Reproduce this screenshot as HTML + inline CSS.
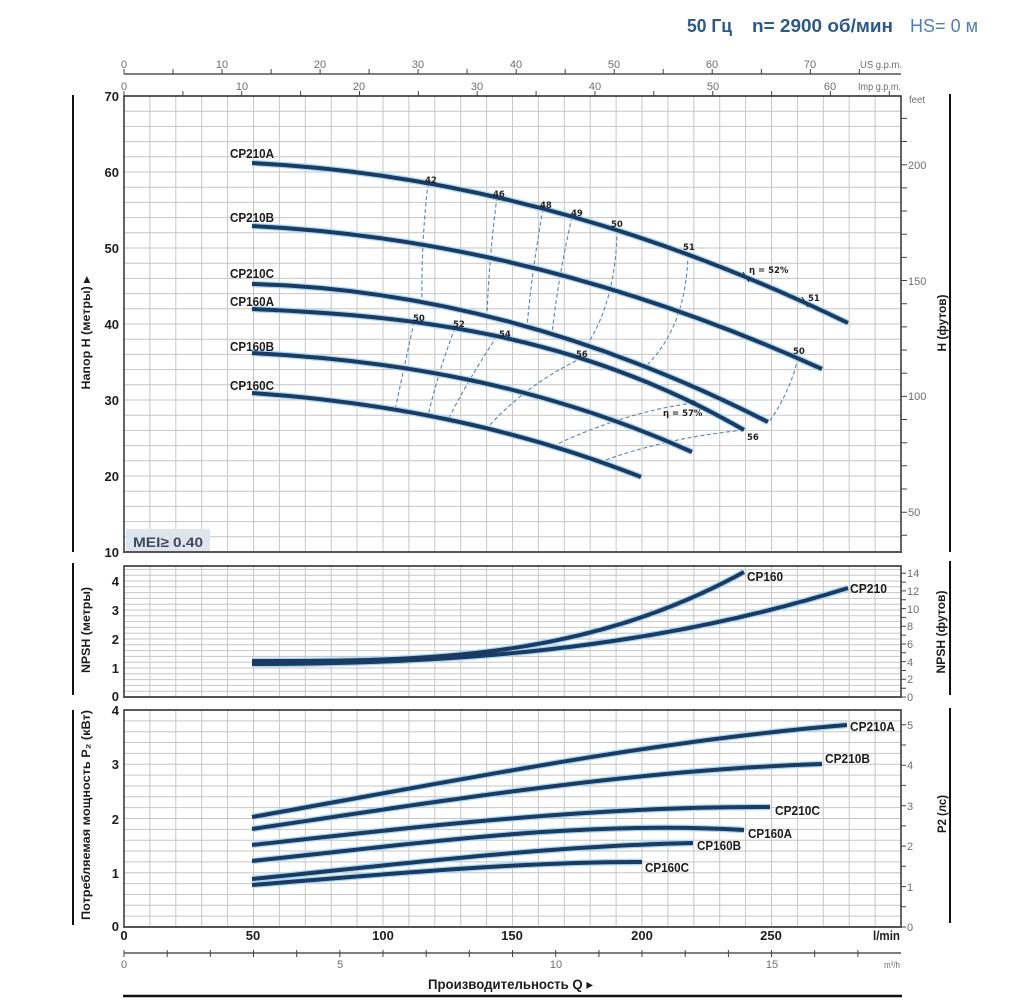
<!DOCTYPE html>
<html><head><meta charset="utf-8"><style>
html,body{margin:0;padding:0;background:#fff}
svg{display:block}
.tk{font:bold 13px "Liberation Sans",sans-serif;fill:#1e1e1e}
.sm{font:11px "Liberation Sans",sans-serif;fill:#6e6e6e}
.lb{font:bold 13px "Liberation Sans",sans-serif;fill:#1c1c1c}
.ef{font:bold 8.5px "DejaVu Sans","Liberation Sans",sans-serif;fill:#222}
.ax{font:bold 12px "Liberation Sans",sans-serif;fill:#1c1c1c}
.cv{fill:none;stroke:#1b3b62;stroke-width:4;stroke-linecap:butt}
.hl{fill:none;stroke:#a8d6f2;stroke-width:6.5;stroke-linecap:butt}
.ds{fill:none;stroke:#5b84b1;stroke-width:1.1;stroke-dasharray:4 2.5}
</style></head><body>
<svg width="1015" height="1000" viewBox="0 0 1015 1000" xmlns="http://www.w3.org/2000/svg">
<rect width="1015" height="1000" fill="#fff"/>

<!-- header -->
<text x="687" y="32" textLength="45" lengthAdjust="spacingAndGlyphs" style="font:bold 18px 'Liberation Sans',sans-serif;fill:#2c5a88">50 Гц</text>
<text x="752" y="32" textLength="141" lengthAdjust="spacingAndGlyphs" style="font:bold 18px 'Liberation Sans',sans-serif;fill:#2c5a88">n= 2900 об/мин</text>
<text x="910" y="32" textLength="68" lengthAdjust="spacingAndGlyphs" style="font:18px 'Liberation Sans',sans-serif;fill:#4f7fb0">HS= 0 м</text>

<!-- grid verticals -->
<path stroke="#c6c6c6" stroke-width="1" fill="none" d="M149.9 96V927M175.8 96V927M201.7 96V927M227.6 96V927M253.5 96V927M279.4 96V927M305.3 96V927M331.2 96V927M357.1 96V927M383 96V927M408.9 96V927M434.8 96V927M460.7 96V927M486.6 96V927M512.5 96V927M538.4 96V927M564.3 96V927M590.2 96V927M616.1 96V927M642 96V927M667.9 96V927M693.8 96V927M719.7 96V927M745.6 96V927M771.5 96V927M797.4 96V927M823.3 96V927M849.2 96V927M875.1 96V927"/>
<rect x="120" y="553" width="785" height="12.5" fill="#fff"/>
<rect x="120" y="698" width="785" height="11.5" fill="#fff"/>

<!-- grid horizontals -->
<path stroke="#c6c6c6" stroke-width="1" fill="none" d="M124 536.8H901M124 521.6H901M124 506.4H901M124 491.2H901M124 476H901M124 460.8H901M124 445.6H901M124 430.4H901M124 415.2H901M124 400H901M124 384.8H901M124 369.6H901M124 354.4H901M124 339.2H901M124 324H901M124 308.8H901M124 293.6H901M124 278.4H901M124 263.2H901M124 248H901M124 232.8H901M124 217.6H901M124 202.4H901M124 187.2H901M124 172H901M124 156.8H901M124 141.6H901M124 126.4H901M124 111.2H901
M124 691.2H901M124 685.4H901M124 679.6H901M124 673.8H901M124 668H901M124 662.2H901M124 656.4H901M124 650.6H901M124 644.8H901M124 639H901M124 633.2H901M124 627.4H901M124 621.6H901M124 615.8H901M124 610H901M124 604.2H901M124 598.4H901M124 592.6H901M124 586.8H901M124 581H901M124 575.2H901M124 569.4H901
M124 916.15H901M124 905.3H901M124 894.45H901M124 883.6H901M124 872.75H901M124 861.9H901M124 851.05H901M124 840.2H901M124 829.35H901M124 818.5H901M124 807.65H901M124 796.8H901M124 785.95H901M124 775.1H901M124 764.25H901M124 753.4H901M124 742.55H901M124 731.7H901M124 720.85H901"/>

<!-- panel borders -->
<path stroke="#222" stroke-width="1.4" fill="none" d="M124 552V96H901V552M124 697V566H901V697M124 927V710H901V927"/>
<path stroke="#555" stroke-width="2" fill="none" d="M123 552H902M123 697H902M123 927H902"/>

<!-- top axes -->
<path stroke="#333" stroke-width="1.2" fill="none" d="M124 74H901"/>
<path stroke="#444" stroke-width="1" fill="none" d="M124 74v-5M173 74v-5M222 74v-5M271.1 74v-5M320.1 74v-5M369.1 74v-5M418.1 74v-5M467.1 74v-5M516.2 74v-5M565.2 74v-5M614.2 74v-5M663.2 74v-5M712.2 74v-5M761.3 74v-5M810.3 74v-5M859.3 74v-5
M124 96v-5M182.9 96v-5M241.7 96v-5M300.6 96v-5M359.5 96v-5M418.4 96v-5M477.2 96v-5M536.1 96v-5M595 96v-5M653.8 96v-5M712.7 96v-5M771.6 96v-5M830.4 96v-5M889.3 96v-5"/>
<g class="sm" text-anchor="middle">
<text x="124" y="68">0</text><text x="222" y="68">10</text><text x="320" y="68">20</text><text x="418" y="68">30</text><text x="516" y="68">40</text><text x="614" y="68">50</text><text x="712" y="68">60</text><text x="810" y="68">70</text>
<text x="124" y="90">0</text><text x="242" y="90">10</text><text x="359" y="90">20</text><text x="477" y="90">30</text><text x="595" y="90">40</text><text x="713" y="90">50</text><text x="830" y="90">60</text>
</g>
<text class="sm" x="860" y="68" textLength="42" lengthAdjust="spacingAndGlyphs" style="font-size:10px">US g.p.m.</text>
<text class="sm" x="858" y="90" textLength="43" lengthAdjust="spacingAndGlyphs" style="font-size:10px">Imp g.p.m.</text>
<text class="sm" x="909" y="103" textLength="16" lengthAdjust="spacingAndGlyphs" style="font-size:10px">feet</text>

<!-- left tick labels -->
<g class="tk" text-anchor="end">
<text x="119" y="101">70</text><text x="119" y="177">60</text><text x="119" y="253">50</text><text x="119" y="329">40</text><text x="119" y="405">30</text><text x="119" y="481">20</text><text x="119" y="557">10</text>
<text x="119" y="586">4</text><text x="119" y="615">3</text><text x="119" y="644">2</text><text x="119" y="673">1</text><text x="119" y="701">0</text>
<text x="119" y="715">4</text><text x="119" y="769">3</text><text x="119" y="824">2</text><text x="119" y="878">1</text><text x="119" y="931">0</text>
</g>

<!-- right ticks -->
<path stroke="#444" stroke-width="1" fill="none" d="M901 535.3h6M901 512.2h6M901 489h6M901 465.8h6M901 442.7h6M901 419.5h6M901 396.4h6M901 373.2h6M901 350h6M901 326.9h6M901 303.7h6M901 280.5h6M901 257.4h6M901 234.2h6M901 211h6M901 187.9h6M901 164.7h6M901 141.5h6M901 118.4h6
M901 697h5M901 688.2h5M901 679.3h5M901 670.5h5M901 661.6h5M901 652.8h5M901 644h5M901 635.1h5M901 626.3h5M901 617.4h5M901 608.6h5M901 599.8h5M901 590.9h5M901 582.1h5M901 573.2h5
M901 927h5M901 906.8h5M901 886.6h5M901 866.3h5M901 846.1h5M901 825.9h5M901 805.7h5M901 785.4h5M901 765.2h5M901 745h5M901 724.8h5"/>
<g class="sm">
<text x="908" y="516">50</text><text x="908" y="400">100</text><text x="908" y="285">150</text><text x="908" y="169">200</text>
<text x="907" y="701">0</text><text x="907" y="683">2</text><text x="907" y="666">4</text><text x="907" y="648">6</text><text x="907" y="630">8</text><text x="907" y="613">10</text><text x="907" y="595">12</text><text x="907" y="577">14</text>
<text x="907" y="931">0</text><text x="907" y="891">1</text><text x="907" y="850">2</text><text x="907" y="810">3</text><text x="907" y="769">4</text><text x="907" y="729">5</text>
</g>

<!-- brackets -->
<path stroke="#111" stroke-width="2" fill="none" d="M73 95V552M73 563V695M73 710V925M950 94V552M950 561V695M950 708V923"/>

<!-- axis titles -->
<text class="ax" transform="translate(90,333) rotate(-90)" text-anchor="middle" textLength="113" lengthAdjust="spacingAndGlyphs">Напор H (метры) ▸</text>
<text class="ax" transform="translate(90,630) rotate(-90)" text-anchor="middle" textLength="86" lengthAdjust="spacingAndGlyphs">NPSH (метры)</text>
<text class="ax" transform="translate(90,815) rotate(-90)" text-anchor="middle" textLength="210" lengthAdjust="spacingAndGlyphs">Потребляемая мощность P₂ (кВт)</text>
<text class="ax" transform="translate(946,323) rotate(-90)" text-anchor="middle" textLength="57" lengthAdjust="spacingAndGlyphs">H (футов)</text>
<text class="ax" transform="translate(945,632) rotate(-90)" text-anchor="middle" textLength="83" lengthAdjust="spacingAndGlyphs">NPSH (футов)</text>
<text class="ax" transform="translate(946,814) rotate(-90)" text-anchor="middle" textLength="38" lengthAdjust="spacingAndGlyphs">P2 (лс)</text>

<!-- MEI box -->
<rect x="126" y="529" width="84" height="22" fill="#dfe5ec"/>
<text x="133" y="547" textLength="70" lengthAdjust="spacingAndGlyphs" style="font:bold 14px 'Liberation Sans','DejaVu Sans',sans-serif;fill:#3c4c5c">MEI≥ 0.40</text>

<!-- efficiency dashed lines -->
<g class="ds">
<path d="M428 183Q421 245 422 302"/>
<path d="M497 197Q489 258 487 316"/>
<path d="M543 209Q532 270 527 327"/>
<path d="M572 217Q558 278 552 334"/>
<path d="M617 230Q616 300 587 345"/>
<path d="M688 254Q686 328 645 367"/>
<path d="M798 358Q790 392 769 422"/>
<path d="M414 322Q404 368 395 410"/>
<path d="M455 328Q438 372 428 416"/>
<path d="M497 336Q465 385 448 420"/>
<path d="M582 358Q528 383 487 428"/>
<path d="M553 446Q625 412 693 403"/>
<path d="M600 462Q665 438 744 430"/>
</g>

<!-- head curves -->
<g>
<path class="hl" d="M252 163Q550 178 848 323"/>
<path class="hl" d="M252 226Q537 240 822 369"/>
<path class="hl" d="M252 284Q510 291 768 422"/>
<path class="hl" d="M252 309C416 315.6 580 335 744 430"/>
<path class="hl" d="M252 353C398.7 360.3 545.3 386 692 452"/>
<path class="hl" d="M252 393C381.7 402 511.3 426 641 477"/>
<path class="cv" d="M252 163Q550 178 848 323"/>
<path class="cv" d="M252 226Q537 240 822 369"/>
<path class="cv" d="M252 284Q510 291 768 422"/>
<path class="cv" d="M252 309C416 315.6 580 335 744 430"/>
<path class="cv" d="M252 353C398.7 360.3 545.3 386 692 452"/>
<path class="cv" d="M252 393C381.7 402 511.3 426 641 477"/>
</g>
<path stroke="#1b3b62" stroke-width="1.2" d="M743 272l6 10M802 297l6 10"/>
<circle cx="693" cy="402.7" r="2.5" fill="#1b3b62"/>

<!-- efficiency labels -->
<g class="ef">
<text x="425" y="183">42</text><text x="493" y="197">46</text><text x="540" y="208">48</text><text x="571" y="216">49</text><text x="611" y="227">50</text><text x="683" y="250">51</text><text x="808" y="301">51</text><text x="793" y="354">50</text><text x="747" y="440">56</text>
<text x="413" y="321">50</text><text x="453" y="327">52</text><text x="499" y="337">54</text><text x="576" y="357">56</text>
<text x="749" y="273">η = 52%</text><text x="663" y="416">η = 57%</text>
</g>

<!-- curve labels main -->
<g class="lb">
<text x="230" y="158" textLength="44" lengthAdjust="spacingAndGlyphs">CP210A</text>
<text x="230" y="222" textLength="44" lengthAdjust="spacingAndGlyphs">CP210B</text>
<text x="230" y="278" textLength="44" lengthAdjust="spacingAndGlyphs">CP210C</text>
<text x="230" y="306" textLength="44" lengthAdjust="spacingAndGlyphs">CP160A</text>
<text x="230" y="351" textLength="44" lengthAdjust="spacingAndGlyphs">CP160B</text>
<text x="230" y="390" textLength="44" lengthAdjust="spacingAndGlyphs">CP160C</text>
</g>

<!-- NPSH curves -->
<path class="hl" d="M252 664C450.7 664 649.3 650 848 588"/>
<path class="hl" d="M252 661C416 661 580 662 744 572"/>
<path class="cv" d="M252 664C450.7 664 649.3 650 848 588"/>
<path class="cv" d="M252 661C416 661 580 662 744 572"/>
<g class="lb">
<text x="747" y="581" textLength="36" lengthAdjust="spacingAndGlyphs">CP160</text>
<text x="850" y="593" textLength="37" lengthAdjust="spacingAndGlyphs">CP210</text>
</g>

<!-- power curves -->
<g>
<path class="hl" d="M252 817C450 782 649 741 847 725"/>
<path class="hl" d="M252 829C442 801 632 770 822 764"/>
<path class="hl" d="M252 845C424.7 826 597 806 770 807"/>
<path class="hl" d="M252 861C416 844 580 820 744 830"/>
<path class="hl" d="M252 879C399 864.3 546 846 693 843"/>
<path class="hl" d="M252 885C382 874.6 512 862 642 862"/>
<path class="cv" d="M252 817C450 782 649 741 847 725"/>
<path class="cv" d="M252 829C442 801 632 770 822 764"/>
<path class="cv" d="M252 845C424.7 826 597 806 770 807"/>
<path class="cv" d="M252 861C416 844 580 820 744 830"/>
<path class="cv" d="M252 879C399 864.3 546 846 693 843"/>
<path class="cv" d="M252 885C382 874.6 512 862 642 862"/>
</g>
<g class="lb">
<text x="850" y="731" textLength="45" lengthAdjust="spacingAndGlyphs">CP210A</text>
<text x="825" y="763" textLength="45" lengthAdjust="spacingAndGlyphs">CP210B</text>
<text x="775" y="815" textLength="45" lengthAdjust="spacingAndGlyphs">CP210C</text>
<text x="748" y="838" textLength="44" lengthAdjust="spacingAndGlyphs">CP160A</text>
<text x="697" y="850" textLength="44" lengthAdjust="spacingAndGlyphs">CP160B</text>
<text x="645" y="872" textLength="44" lengthAdjust="spacingAndGlyphs">CP160C</text>
</g>

<!-- bottom l/min labels -->
<g class="tk" text-anchor="middle">
<text x="124" y="940">0</text><text x="253" y="940">50</text><text x="383" y="940">100</text><text x="512" y="940">150</text><text x="642" y="940">200</text><text x="771" y="940">250</text>
</g>
<text class="tk" x="900" y="940" text-anchor="end" textLength="27" lengthAdjust="spacingAndGlyphs">l/min</text>

<!-- m3/h axis -->
<path stroke="#333" stroke-width="1.2" fill="none" d="M124 953H901"/>
<path stroke="#444" stroke-width="1" fill="none" d="M124 950v7M167.2 950v7M210.3 950v7M253.5 950v7M296.7 950v7M339.8 950v7M383 950v7M426.2 950v7M469.3 950v7M512.5 950v7M555.7 950v7M598.9 950v7M642 950v7M685.2 950v7M728.4 950v7M771.5 950v7M814.7 950v7M857.9 950v7"/>
<g class="sm" text-anchor="middle">
<text x="124" y="968">0</text><text x="340" y="968">5</text><text x="556" y="968">10</text><text x="772" y="968">15</text>
</g>
<text class="sm" x="884" y="968" textLength="16" lengthAdjust="spacingAndGlyphs" style="font-size:9px">m³/h</text>

<text x="428" y="989" textLength="165" lengthAdjust="spacingAndGlyphs" style="font:bold 14px 'Liberation Sans','DejaVu Sans',sans-serif;fill:#1c1c1c">Производительность Q ▸</text>
<path stroke="#111" stroke-width="2.5" d="M123 996H902"/>
</svg>
</body></html>
